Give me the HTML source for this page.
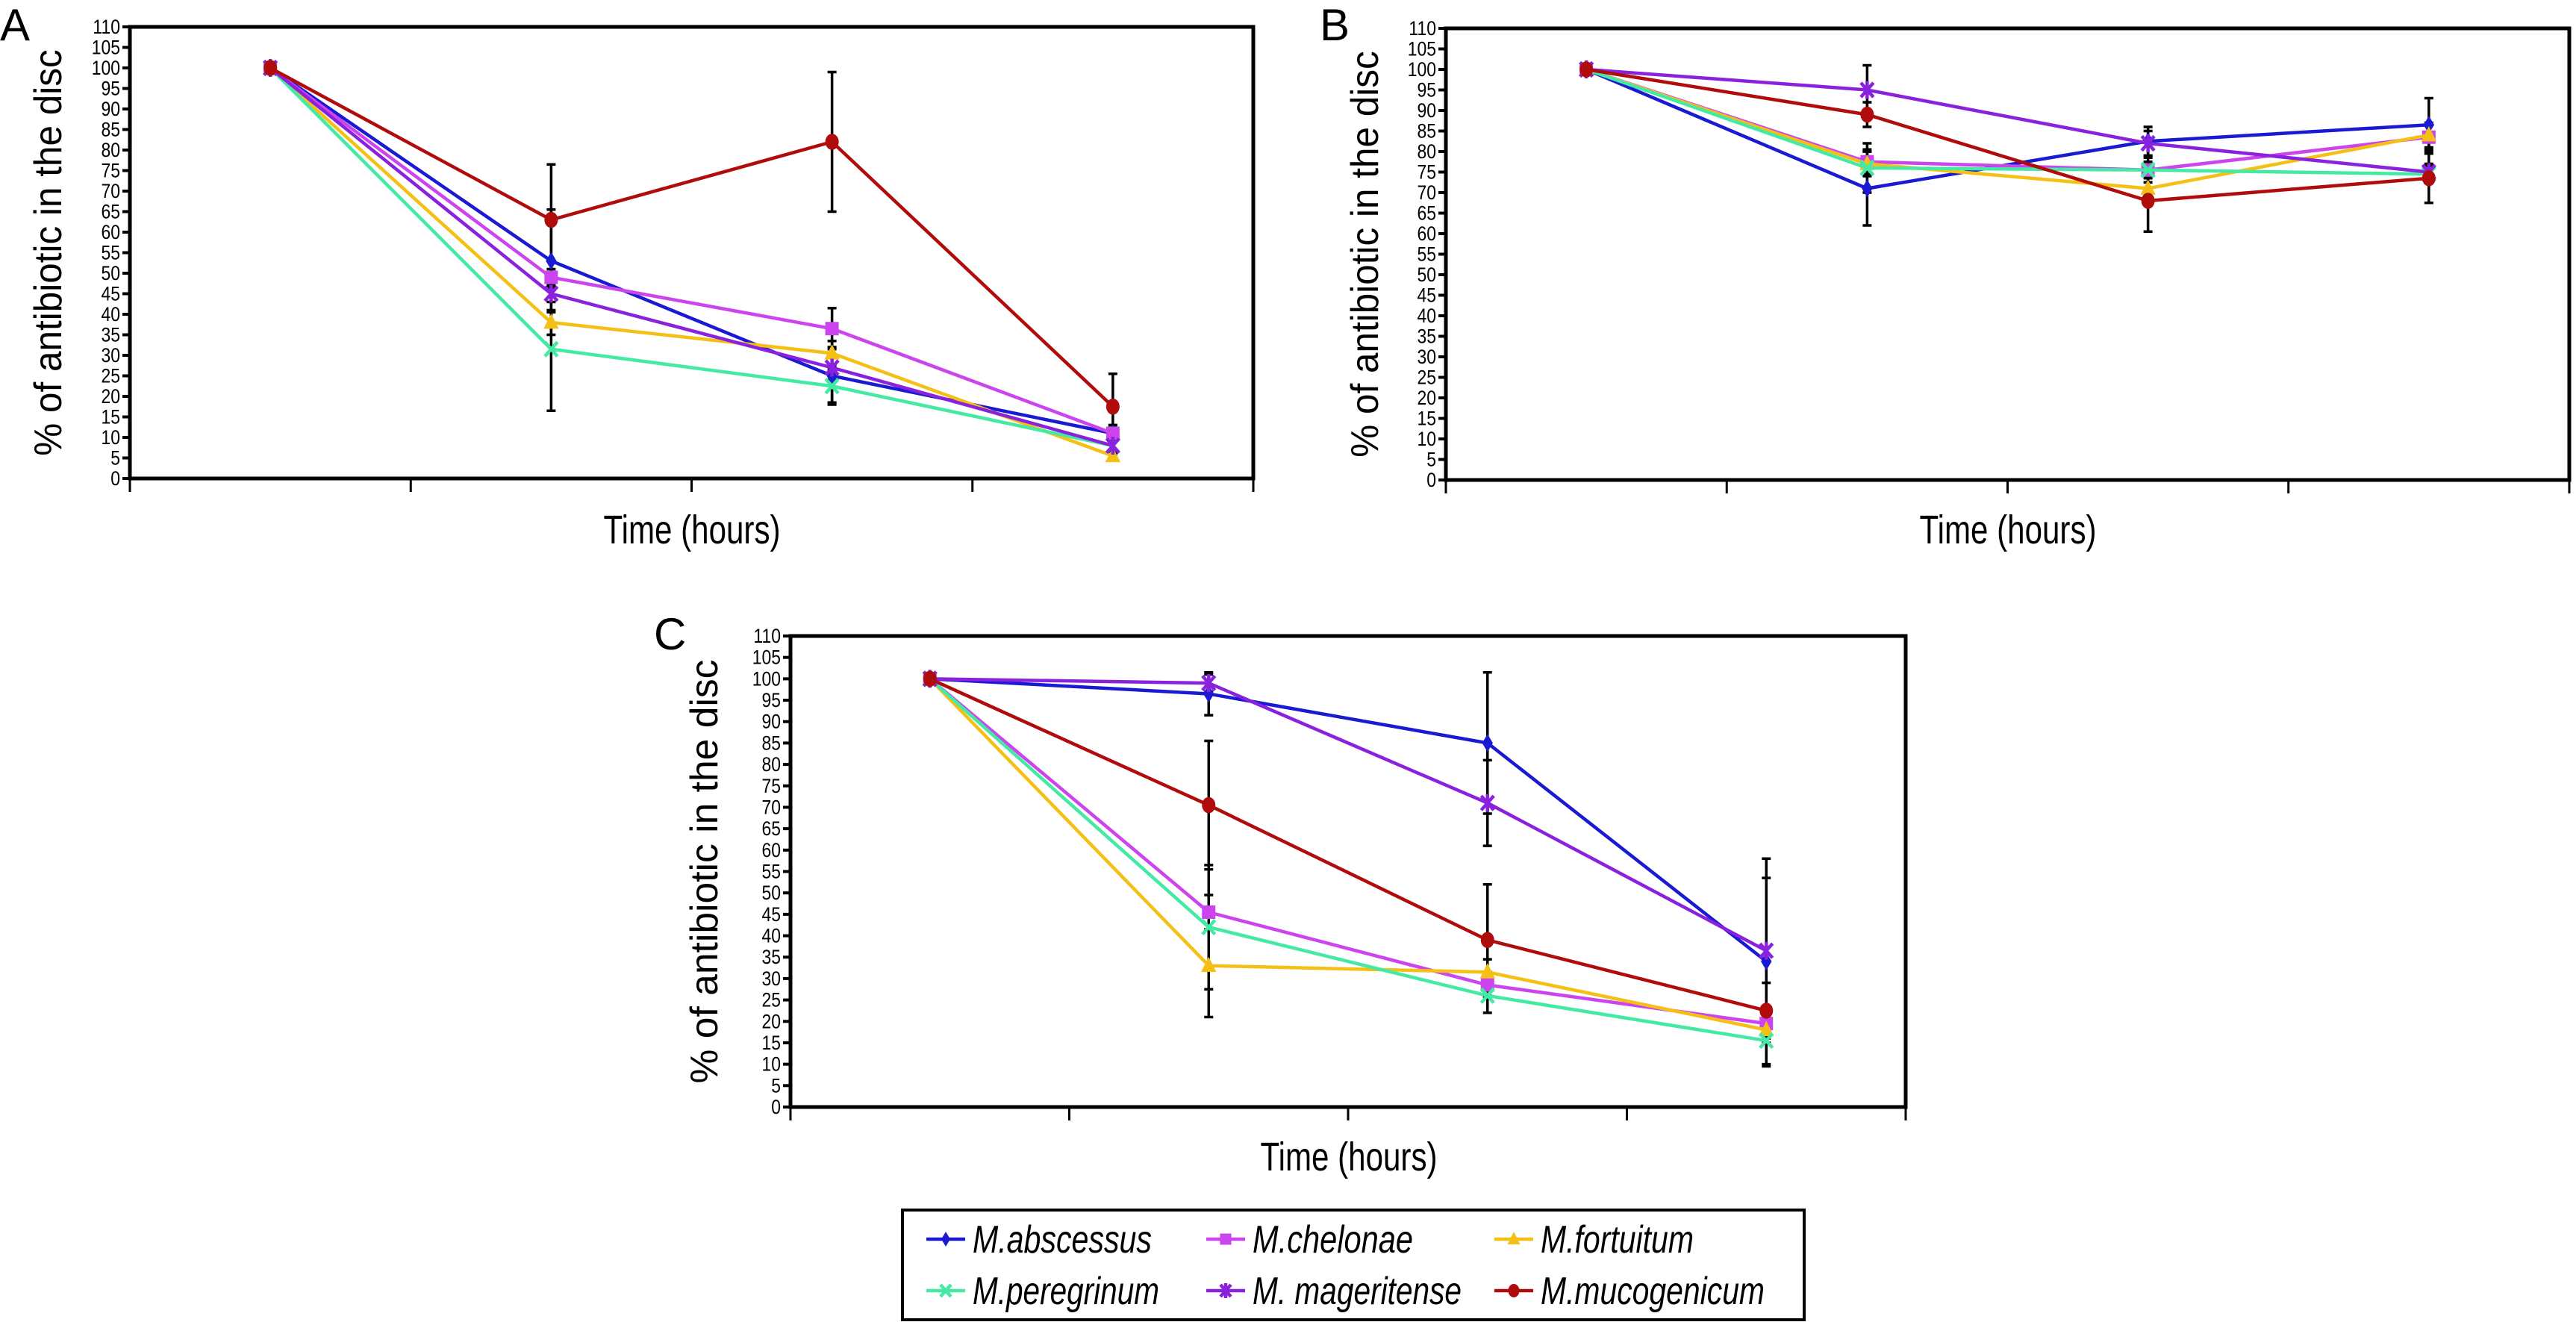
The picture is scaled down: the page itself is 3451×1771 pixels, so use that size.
<!DOCTYPE html>
<html><head><meta charset="utf-8"><style>
html,body{margin:0;padding:0;background:#fff;}
svg{display:block;}
text{font-family:"Liberation Sans",sans-serif;}
</style></head><body>
<svg id="fig" width="3451" height="1771" viewBox="0 0 3451 1771" xmlns="http://www.w3.org/2000/svg"></svg>
<script>
const seriesNames = ["M.abscessus","M.chelonae","M.fortuitum","M.peregrinum","M. mageritense","M.mucogenicum"];
const seriesColors = ["#1a1ad2","#cc44ee","#f5c016","#44eaa4","#8a22dd","#b00c0c"];
const seriesMarkers = ["diamond","square","triangle","x","star","circle"];
const yTicks = [0,5,10,15,20,25,30,35,40,45,50,55,60,65,70,75,80,85,90,95,100,105,110];
// Panel A values
const aAbscessus = [100,53,25,11];
const aChelonae = [100,49,36.5,11];
const aFortuitum = [100,38,30.5,5.5];
const aPeregrinum = [100,31.5,22.5,8];
const aMageritense = [100,45,27,8];
const aMucogenicum = [100,63,82,17.5];
const aErr = [[0,12.5,7,2],[0,2,5,2],[0,3,3,1],[0,15,4,2],[0,2,3,1],[0,13.5,17,8]];
// Panel B values
const bAbscessus = [100,71,82.5,86.5];
const bChelonae = [100,77.5,75.5,83.5];
const bFortuitum = [100,77,71,84];
const bPeregrinum = [100,76,75.5,74.5];
const bMageritense = [100,95,82,75];
const bMucogenicum = [100,89,68,73.5];
const bErr = [[0,9,3.5,6.5],[0,3,2,3],[0,3,3,3],[0,6,3,2],[0,6,3,2],[0,3,7.5,6]];
// Panel C values
const cAbscessus = [100,96.5,85,34];
const cChelonae = [100,45.5,28.5,19.5];
const cFortuitum = [100,33,31.5,18];
const cPeregrinum = [100,42,26,15.5];
const cMageritense = [100,99,71,36.5];
const cMucogenicum = [100,70.5,39,22.5];
const cErr = [[0,5,16.5,24],[0,4,3,3],[0,12,3,3],[0,14.5,4,6],[0,2,10,17],[0,15,13,6.5]];

const NS="http://www.w3.org/2000/svg";
const svg=document.getElementById('fig');
function mk(tag,attrs,parent){const e=document.createElementNS(NS,tag);for(const k in attrs)e.setAttribute(k,attrs[k]);(parent||svg).appendChild(e);return e;}

function marker(g,type,cx,cy,color,s){
  let m;
  if(type==="diamond") m=mk('polygon',{points:`${cx},${cy-s} ${cx+s*0.6},${cy} ${cx},${cy+s} ${cx-s*0.6},${cy}`,fill:color},g);
  else if(type==="square") m=mk('rect',{x:cx-s*0.75,y:cy-s*0.75,width:s*1.5,height:s*1.5,fill:color},g);
  else if(type==="triangle") m=mk('polygon',{points:`${cx},${cy-s} ${cx+s*0.85},${cy+s*0.7} ${cx-s*0.85},${cy+s*0.7}`,fill:color},g);
  else if(type==="circle") m=mk('ellipse',{cx:cx,cy:cy,rx:s*0.75,ry:s*0.9,fill:color},g);
  else if(type==="x") m=mk('path',{d:`M${cx-s*0.7},${cy-s*0.8}L${cx+s*0.7},${cy+s*0.8}M${cx+s*0.7},${cy-s*0.8}L${cx-s*0.7},${cy+s*0.8}`,stroke:color,'stroke-width':4.5,fill:'none'},g);
  else m=mk('path',{d:`M${cx-s*0.7},${cy-s*0.8}L${cx+s*0.7},${cy+s*0.8}M${cx+s*0.7},${cy-s*0.8}L${cx-s*0.7},${cy+s*0.8}M${cx},${cy-s}L${cx},${cy+s}`,stroke:color,'stroke-width':4.5,fill:'none'},g);
  return m;
}

function panel(id,label,L,R,T,B,labelX,labelY,titleX,timeX,timeY,data,errs){
  const g=mk('g',{});
  
  
  const y=v=>B-(v/110)*(B-T);
  const x=i=>L+(i+0.5)*(R-L)/4;
  const pl=mk('text',{x:labelX,y:labelY,'font-size':60},g);pl.textContent=label;
  
  
  const frame=mk('rect',{x:L,y:T,width:R-L,height:B-T,fill:'none',stroke:'#000','stroke-width':5},g);
  
  
  yTicks.forEach(v=>{
    mk('line',{x1:L-10,x2:L,y1:y(v),y2:y(v),stroke:'#000','stroke-width':4},g);
    const tx=L-13;
    const t=mk('text',{x:tx,y:y(v)+9,'font-size':27,'text-anchor':'end',transform:`translate(${tx},0) scale(0.85,1) translate(${-tx},0)`},g);t.textContent=v;
    
    
  });
  for(let i=0;i<=4;i++){mk('line',{x1:L+i*(R-L)/4,x2:L+i*(R-L)/4,y1:B,y2:B+18,stroke:'#000','stroke-width':3},g);}
  const yt=mk('text',{x:0,y:0,'font-size':52,'text-anchor':'middle',textLength:(B-T)*0.9,lengthAdjust:'spacingAndGlyphs',transform:`translate(${titleX},${(T+B)/2}) rotate(-90)`},g);
  yt.textContent='% of antibiotic in the disc';
  
  
  const xt=mk('text',{x:timeX,y:timeY,'font-size':54,'text-anchor':'middle',transform:`translate(${timeX},0) scale(0.78,1) translate(${-timeX},0)`},g);
  xt.textContent='Time (hours)';
  
  
  data.forEach((vals,s)=>{vals.forEach((v,i)=>{const e=errs[s][i];if(!e)return;
    const eb=mk('path',{d:`M${x(i)},${y(v+e)}L${x(i)},${y(v-e)}M${x(i)-6},${y(v+e)}L${x(i)+6},${y(v+e)}M${x(i)-6},${y(v-e)}L${x(i)+6},${y(v-e)}`,stroke:'#000','stroke-width':3.5,fill:'none'},g);
    
    
  });});
  data.forEach((vals,s)=>{
    const ln=mk('polyline',{points:vals.map((v,i)=>x(i)+','+y(v)).join(' '),fill:'none',stroke:seriesColors[s],'stroke-width':4.5},g);
    
    
    vals.forEach((v,i)=>{const m=marker(g,seriesMarkers[s],x(i),y(v),seriesColors[s],12);
      
      });
  });
}
panel('a','A',174,1679,36,641,0,54,82,927,728,
  [aAbscessus,aChelonae,aFortuitum,aPeregrinum,aMageritense,aMucogenicum],aErr);
panel('b','B',1937,3442,38,643,1768,54,1846,2690,728,
  [bAbscessus,bChelonae,bFortuitum,bPeregrinum,bMageritense,bMucogenicum],bErr);
panel('c','C',1059,2553,852,1483,876,870,961,1807,1568,
  [cAbscessus,cChelonae,cFortuitum,cPeregrinum,cMageritense,cMucogenicum],cErr);

const lg=mk('g',{});


mk('rect',{x:1209,y:1621,width:1208,height:147,fill:'#fff',stroke:'#000','stroke-width':4},lg);
const legX=[1241,1616,2002,1241,1616,2002];
const legY=[1660,1660,1660,1729,1729,1729];
const legW=[240,215,205,250,280,300];
seriesNames.forEach((n,s)=>{
  const e=mk('g',{},lg);
  
  
  mk('line',{x1:legX[s],x2:legX[s]+52,y1:legY[s],y2:legY[s],stroke:seriesColors[s],'stroke-width':4.5},e);
  marker(e,seriesMarkers[s],legX[s]+26,legY[s],seriesColors[s],10);
  const t=mk('text',{x:legX[s]+62,y:legY[s]+18,'font-size':52,'font-style':'italic',textLength:legW[s],lengthAdjust:'spacingAndGlyphs'},e);
  t.textContent=n;
});
</script>
</body></html>
